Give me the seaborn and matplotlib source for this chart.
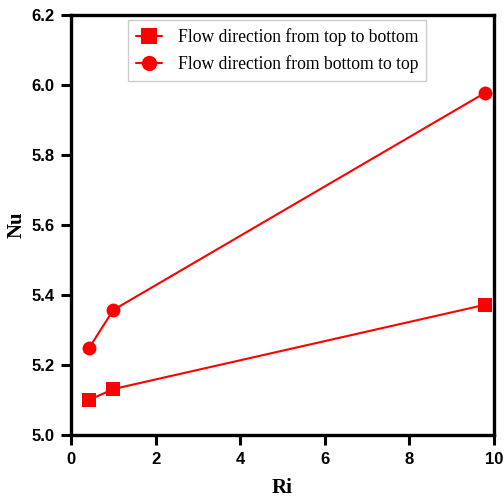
import pandas as pd
import seaborn as sns
import matplotlib.pyplot as plt

ri_values = [0.43, 1.0, 9.8]
nu_top_to_bottom = [5.10, 5.131, 5.372]
nu_bottom_to_top = [5.249, 5.357, 5.978]
series_names = ['Flow direction from top to bottom', 'Flow direction from bottom to top']

df = pd.DataFrame({
    'Ri': ri_values * 2,
    'Nu': nu_top_to_bottom + nu_bottom_to_top,
    'case': [series_names[0]] * 3 + [series_names[1]] * 3,
})

sns.set_style('ticks')
fig = plt.figure(figsize=(5.04, 4.97), dpi=100)
ax = fig.add_axes([0.141, 0.125, 0.839, 0.845])

sns.lineplot(data=df, x='Ri', y='Nu', hue='case', style='case',
             palette=['#ff0000', '#ff0000'], markers=['s', 'o'], dashes=False,
             markersize=10, markeredgewidth=0, linewidth=1.5, ax=ax)

ax.set_xlim(0, 10)
ax.set_ylim(5.0, 6.2)
ax.set_xticks([0, 2, 4, 6, 8, 10])
ax.set_yticks([5.0, 5.2, 5.4, 5.6, 5.8, 6.0, 6.2])
ax.set_yticklabels(['5.0', '5.2', '5.4', '5.6', '5.8', '6.0', '6.2'])
ax.tick_params(axis='both', which='major', width=2.2, length=7,
               direction='out', color='black', labelcolor='black', pad=5)
for lab in ax.get_xticklabels() + ax.get_yticklabels():
    lab.set_fontfamily('Liberation Sans')
    lab.set_fontweight('bold')
    lab.set_fontsize(12)

ax.set_xlabel('Ri', fontfamily='Liberation Serif', fontweight='bold',
              fontsize=15, color='black', labelpad=8)
ax.set_ylabel('Nu', fontfamily='Liberation Serif', fontweight='bold',
              fontsize=15, color='black', labelpad=3)

leg = ax.legend(loc='upper center', bbox_to_anchor=(0.487, 0.988),
                borderaxespad=0,
                prop={'family': 'Liberation Serif', 'size': 12.7},
                frameon=True, fancybox=False, edgecolor='#c0c0c0',
                handlelength=1.5, handletextpad=0.9, borderpad=0.45,
                labelspacing=0.55, markerscale=1.1)
leg.get_frame().set_linewidth(1.0)
for t in leg.get_texts():
    t.set_color('black')

for sp in ax.spines.values():
    sp.set_visible(True)
    sp.set_linewidth(2.4)
    sp.set_edgecolor('black')

fig.savefig('out.png', dpi=100)
